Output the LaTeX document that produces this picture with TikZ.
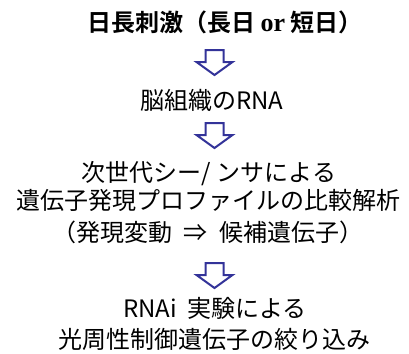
\documentclass[tikz,border=0pt]{standalone}
\usepackage{fontspec}
\setmainfont{Noto Sans CJK JP}[BoldFont={Noto Sans CJK JP Bold}]
\newfontfamily\orfont{Liberation Serif}
\definecolor{arrowblue}{RGB}{51,51,153}
\tikzset{
  txt/.style={anchor=base, inner sep=0pt, font=\fontsize{24bp}{28bp}\selectfont},
  btxt/.style={txt, font=\fontsize{24bp}{28bp}\selectfont\bfseries},
  blockarrow/.style={draw=arrowblue, line width=2bp, fill=white, line join=miter}
}
\newcommand{\downarrowat}[1]{%
  \draw[blockarrow] ($(#1)+(-9,0)$) -- ($(#1)+(9,0)$) -- ($(#1)+(9,12)$) -- ($(#1)+(18,12)$)
    -- ($(#1)+(0,25)$) -- ($(#1)+(-18,12)$) -- ($(#1)+(-9,12)$) -- cycle;}
\usetikzlibrary{calc}
\begin{document}
\begin{tikzpicture}[x=1bp,y=-1bp]
\useasboundingbox (0,0) rectangle (409,354);
\node[btxt] (l1) at (225,31) {日長刺激（長日 {\orfont\fontsize{26bp}{28bp}\selectfont or} 短日）};
\node[txt] (l2) at (212,109) {脳組織のRNA};
\node[txt] (l3) at (209,181) {次世代シー/ ンサによる};
\node[txt] (l4) at (209,209) {遺伝子発現プロファイルの比較解析};
\node[txt] (l5) at (208,241) {（発現変動\hspace{6bp} ⇒ \hspace{6bp}候補遺伝子）};
\node[txt] (l6) at (215,317) {RNAi\ \ 実験による};
\node[txt] (l7) at (215,348) {光周性制御遺伝子の絞り込み};
\coordinate (a1) at (214.5,50);
\coordinate (a2) at (214.5,123);
\coordinate (a3) at (214.5,263);
\downarrowat{a1}
\downarrowat{a2}
\downarrowat{a3}
\end{tikzpicture}
\end{document}
